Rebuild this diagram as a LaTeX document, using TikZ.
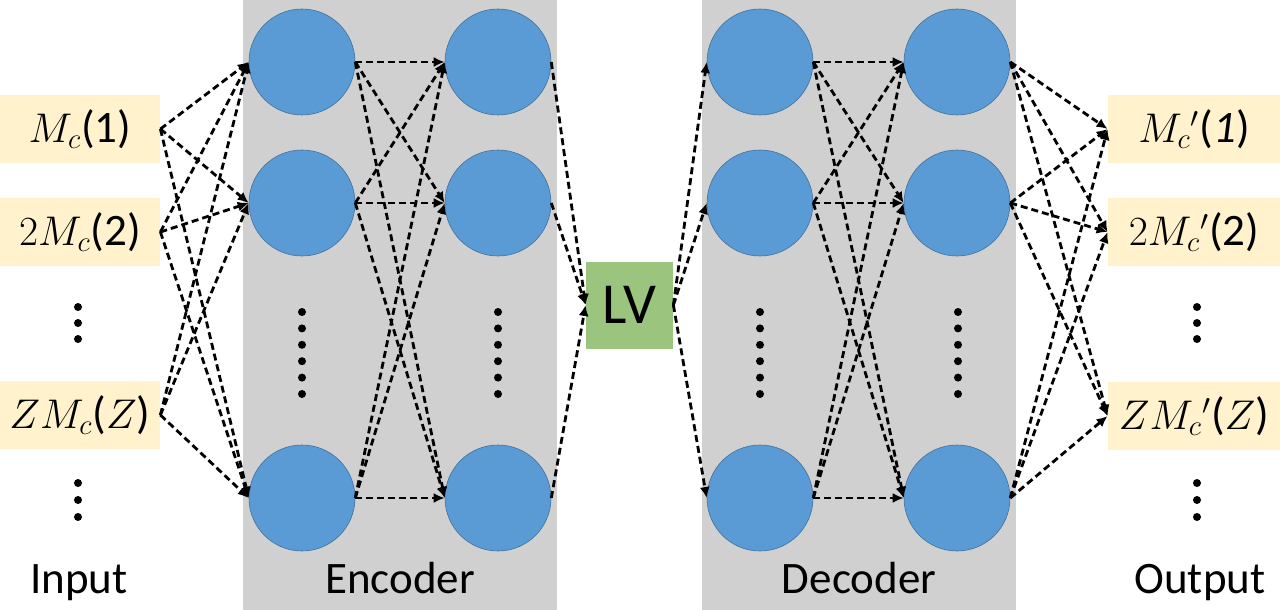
\documentclass[tikz,border=0pt]{standalone}
\usepackage{fontspec}
\setmainfont{Carlito}
\usetikzlibrary{arrows.meta}

\definecolor{laygray}{RGB}{208,208,208}
\definecolor{nblue}{RGB}{91,155,213}
\definecolor{nborder}{RGB}{65,113,156}
\definecolor{lblfill}{RGB}{255,242,204}
\definecolor{lvgreen}{RGB}{155,197,126}

\tikzset{
neuron/.style={circle, fill=nblue, draw=nborder, line width=.3pt, minimum size=53pt, inner sep=0pt},
lbl/.style={fill=lblfill, minimum height=34pt, inner sep=0pt, font=\fontsize{22.5}{27}\selectfont},
link/.style={line width=1.4pt, dash pattern=on 3.5pt off 2pt, -{Latex[length=5.5pt,width=5pt]}},
caption/.style={anchor=base, font=\fontsize{22.5}{27}\selectfont},
}

\begin{document}
\begin{tikzpicture}
\begin{scope}[x=.5pt,y=-.5pt]
\useasboundingbox (0,0) rectangle (1280,610);
\fill[laygray] (243,0) rectangle (557,610);
\fill[laygray] (702,0) rectangle (1016,610);
% input and output values
\node[lbl, minimum width=80pt] (in1) at (80,129) {$M_c$(1)};
\node[lbl, minimum width=80pt] (in2) at (80,232) {$2M_c$(2)};
\node[lbl, minimum width=80pt] (in3) at (80,415) {$ZM_c$($Z$)};
\node[lbl, minimum width=86pt] (out1) at (1194,129) {$M_c{}'$(\textit{1})};
\node[lbl, minimum width=86pt] (out2) at (1194,232) {$2M_c{}'$(2)};
\node[lbl, minimum width=86pt] (out3) at (1194,416) {$ZM_c{}'$($Z$)};
% layers
\foreach \r/\y in {1/62,2/203,3/498} {
\node[neuron] (ea\r) at (302,\y) {};
\node[neuron] (eb\r) at (498,\y) {};
\node[neuron] (da\r) at (760,\y) {};
\node[neuron] (db\r) at (957,\y) {};
}
\node[fill=lvgreen, minimum size=43.5pt, inner sep=0pt, font=\fontsize{29}{34}\selectfont] (lv) at (629.5,305) {LV};
% dots
\foreach \y in {307,323,339,483,500,517} {
\fill (78,\y) circle (2pt);
\fill (1197,\y) circle (2pt);
}
\foreach \x in {302,498,760,958} \foreach \k in {0,...,5} \fill (\x,{312+16.4*\k}) circle (2pt);
% connections
\foreach \i in {1,2,3} \foreach \j in {1,2,3} {
\draw[link] (in\i.east) -- (ea\j.west);
\draw[link] (ea\i.east) -- (eb\j.west);
\draw[link] (da\i.east) -- (db\j.west);
\draw[link] (db\i.east) -- (out\j.west);
}
\foreach \i in {1,2,3} {
\draw[link] (eb\i.east) -- (lv.west);
\draw[link] (lv.east) -- (da\i.west);
}
\node[caption] (inlab) at (79,593) {Input};
\node[caption] (enclab) at (400,593) {Encoder};
\node[caption] (declab) at (859,593) {Decoder};
\node[caption] (outlab) at (1200,593) {Output};
\end{scope}
\end{tikzpicture}
\end{document}
